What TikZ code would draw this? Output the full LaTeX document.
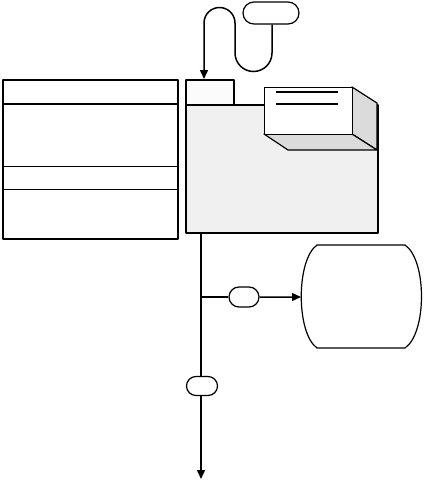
\documentclass[tikz,border=0pt]{standalone}
\usetikzlibrary{arrows.meta,shapes.misc}
\begin{document}
\begin{tikzpicture}[x=1pt,y=-1pt,
  line join=round,
  pill/.style={draw,line width=1.2pt,rounded rectangle,inner sep=0pt,fill=white},
  box/.style={draw,line width=1.5pt,inner sep=0pt},
  conn/.style={line width=1.5pt},
  arr/.style={conn,-{Triangle[length=9pt,width=8pt]}}]
\useasboundingbox (0,0) rectangle (425,483);
% left box
\node[box,minimum width=175pt,minimum height=159pt,anchor=north west] (left) at (2,79) {};
\draw[line width=1.5pt] (2,104) -- (177,104);
\draw[line width=1pt] (2,166) -- (177,166);
\draw[line width=1pt] (2,189) -- (177,189);
% grey folder box
\node[box,fill=gray!12,minimum width=192pt,minimum height=128pt,anchor=north west] (grey) at (185,104) {};
\node[box,fill=white!97!gray,minimum width=48pt,minimum height=25pt,anchor=north west] (tab) at (185,79) {};
% 3D box
\draw[line width=1.2pt,fill=gray!28] (352,87) -- (377,103) -- (377,150) -- (352,134) -- cycle;
\draw[line width=1.2pt,fill=gray!28] (264,134) -- (352,134) -- (377,150) -- (288,150) -- cycle;
\node[draw,line width=1.2pt,fill=white,minimum width=88pt,minimum height=47pt,inner sep=0pt,anchor=north west] (front) at (264,87) {};
\draw[line width=2.2pt] (276,92) -- (338,92);
\draw[line width=1.2pt] (276,104) -- (338,104);
% top pill and S-curve
\node[pill,minimum width=56pt,minimum height=22pt] (src) at (271,13) {};
\draw[arr] (src.south -| 272,0) -- (272,53) arc (0:180:18.5) -- (235,23) arc (0:-180:15.5) -- (tab.north -| 204,0);
% drum
\draw[line width=1.2pt] (317,245) -- (405,245) .. controls (427,260) and (427,333) .. (405,348) -- (317,348) .. controls (296,333) and (296,260) .. (317,245) -- cycle;
\coordinate (drumL) at (301,297);
% small pills
\node[pill,minimum width=30pt,minimum height=20pt] (p1) at (244,297) {};
\node[pill,minimum width=31pt,minimum height=19pt] (p2) at (202,386) {};
\coordinate (br) at (201,297);
\coordinate (bot) at (201,479);
\draw[conn] (grey.south -| 201,0) -- (p2.north -| 201,0);
\draw[arr] (p2.south -| 201,0) -- (bot);
\draw[conn] (br) -- (p1);
\draw[arr] (p1) -- (drumL);
\end{tikzpicture}
\end{document}
